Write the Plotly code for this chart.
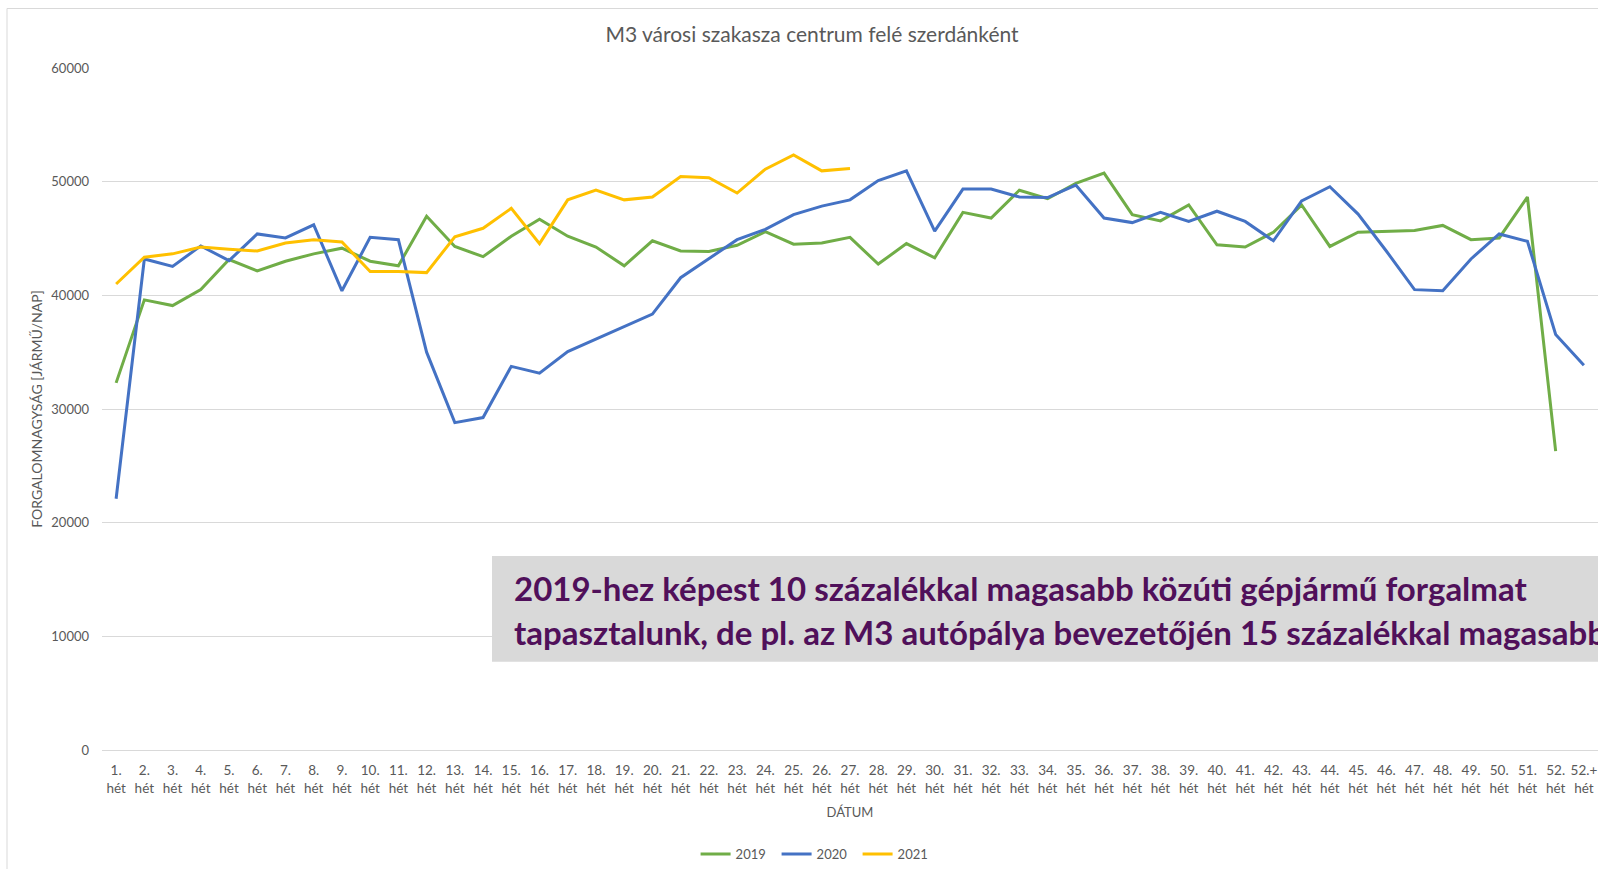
import plotly.graph_objects as go

weeks = [f"{i}.<br>hét" for i in range(1, 53)] + ["52.+<br>hét"]

v2019 = [32300, 39600, 39100, 40500, 43150, 42150, 43000, 43650, 44150, 43000,
         42600, 46950, 44300, 43400, 45200, 46700, 45200, 44250, 42600, 44800,
         43900, 43850, 44400, 45600, 44500, 44600, 45100, 42750, 44550, 43300,
         47300, 46800, 49250, 48500, 49850, 50750, 47100, 46550, 47950, 44450,
         44250, 45550, 47950, 44300, 45550, 45600, 45700, 46150, 44900, 45050,
         48650, 26300, None]

v2020 = [22100, 43200, 42550, 44350, 43050, 45400, 45050, 46200, 40400, 45100,
         44900, 35000, 28800, 29250, 33750, 33150, 35050, 36150, 37250, 38350,
         41550, 43250, 44900, 45800, 47100, 47850, 48400, 50100, 50950, 45650,
         49350, 49350, 48650, 48600, 49700, 46800, 46400, 47300, 46500, 47400,
         46500, 44800, 48300, 49550, 47150, 43900, 40500, 40400, 43200, 45400,
         44750, 36550, 33850]

v2021 = [41000, 43350, 43650, 44250, 44050, 43900, 44600, 44900, 44700, 42100,
         42100, 42000, 45150, 45900, 47650, 44550, 48400, 49250, 48400, 48650,
         50450, 50350, 49000, 51100, 52350, 50950, 51150]
v2021 = v2021 + [None] * (len(weeks) - len(v2021))

y_ticks = [0, 10000, 20000, 30000, 40000, 50000, 60000]

title_text = "M3 városi szakasza centrum felé szerdánként"
y_title = "FORGALOMNAGYSÁG [JÁRMŰ/NAP]"
x_title = "DÁTUM"
box_line1 = "2019-hez képest 10 százalékkal magasabb közúti gépjármű forgalmat"
box_line2 = "tapasztalunk, de pl. az M3 autópálya bevezetőjén 15 százalékkal magasabb"

GRAY = "#595959"
FONT = "Lato"

fig = go.Figure()
for name, vals, col in [("2019", v2019, "#70AD47"),
                        ("2020", v2020, "#4472C4"),
                        ("2021", v2021, "#FFC000")]:
    fig.add_trace(go.Scatter(x=weeks, y=vals, name=name, mode="lines",
                             line=dict(color=col, width=3),
                             connectgaps=False))

fig.update_layout(
    width=1598, height=869,
    margin=dict(l=102, r=0, t=68, b=118),
    paper_bgcolor="white", plot_bgcolor="white",
    font=dict(family=FONT, color=GRAY, size=13),
    title=dict(text=title_text, x=0.4746, xref="paper", xanchor="center",
               y=1 - 34.7 / 869, yref="container", yanchor="middle",
               font=dict(family=FONT, size=21, color=GRAY)),
    showlegend=True,
    legend=dict(orientation="h", x=0.478, xanchor="center",
                y=-0.1526, yanchor="middle",
                font=dict(family=FONT, size=13, color=GRAY),
                entrywidth=36, entrywidthmode="pixels",
                bgcolor="rgba(0,0,0,0)"),
    xaxis=dict(type="category", range=[-0.5, 52.5], tickangle=0,
               showgrid=False, showline=True, linecolor="#d9d9d9", linewidth=1,
               ticks="", ticklabelstandoff=8,
               tickfont=dict(family=FONT, size=13.5, color=GRAY),
               title=dict(text=x_title, standoff=13,
                          font=dict(family=FONT, size=13, color=GRAY)),
               fixedrange=True),
    yaxis=dict(range=[0, 60000], tickvals=y_ticks, ticktext=[str(t) for t in y_ticks],
               showgrid=True, gridcolor="#d9d9d9", gridwidth=1, zeroline=False,
               ticks="", ticklabelstandoff=12,
               tickfont=dict(family=FONT, size=13, color=GRAY),
               title=dict(text=y_title, standoff=5,
                          font=dict(family=FONT, size=14, color=GRAY)),
               fixedrange=True),
)

# chart area border
fig.add_shape(type="rect", xref="paper", yref="paper",
              x0=(7 - 102) / 1496, x1=1.05, y0=-0.2, y1=(750.8 - 8.2) / 683,
              line=dict(color="#d9d9d9", width=1), fillcolor="rgba(0,0,0,0)",
              layer="below")

# grey callout box
fig.add_shape(type="rect", xref="paper", yref="paper",
              x0=(492 - 102) / 1496, x1=1.05,
              y0=(750.8 - 662.4) / 683, y1=(750.8 - 556.4) / 683,
              line=dict(width=0), fillcolor="#d9d9d9", layer="above")
for txt, yc in [(box_line1, 589), (box_line2, 633)]:
    fig.add_annotation(xref="paper", yref="paper", x=(511.6 - 102) / 1496,
                       y=(750.8 - yc) / 683, xanchor="left", yanchor="middle",
                       text=f"<b>{txt}</b>", showarrow=False, align="left",
                       font=dict(family=FONT, size=33, color="#50105A"))

fig.write_html("out.html",
               config={"displayModeBar": False},
               post_script="document.body.style.margin='0';document.body.style.overflow='hidden';")
